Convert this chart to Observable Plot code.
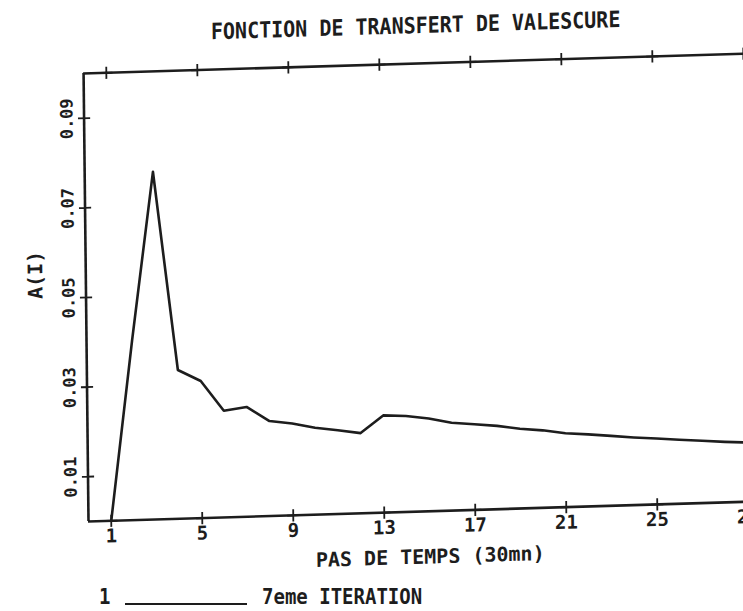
<!DOCTYPE html>
<html>
<head>
<meta charset="utf-8">
<script src="https://cdn.jsdelivr.net/npm/d3@7"></script>
<script src="https://cdn.jsdelivr.net/npm/@observablehq/plot@0.6"></script>
<style>
  html, body { margin: 0; padding: 0; background: #ffffff; overflow: hidden; }
  body { width: 743px; height: 611px; position: relative; font-family: "DejaVu Sans Mono", monospace; color: #1d1d1d; }
  #sheet { position: absolute; left: 0; top: 0; width: 800px; height: 611px;
           transform: matrix(1, -0.03, 0.011, 1, 0, 0); transform-origin: 88px 521px; }
  #title { position: absolute; left: 0; width: 842px; top: 26px; text-align: center;
           font-size: 20px; line-height: 20px; white-space: nowrap; font-weight: bold;
           transform: scaleY(1.12); transform-origin: 50% 80%; }
  #chart { position: absolute; left: 0; top: 0; width: 800px; }
  .leg { position: absolute; font-size: 19px; line-height: 20px; white-space: nowrap; font-weight: bold;
         transform: scaleY(1.1); transform-origin: 0 80%; }
  #legline { position: absolute; left: 125px; top: 603px; width: 122px; height: 2px; background: #1d1d1d; }
</style>
</head>
<body>
<div id="sheet">
  <div id="title"></div>
  <div id="chart"></div>
</div>
<div class="leg" id="legnum" style="left:99px; top:587px;"></div>
<div id="legline"></div>
<div class="leg" id="legtext" style="left:262px; top:587px;"></div>
<script>
// ---- data ----
const titleText = "FONCTION DE TRANSFERT DE VALESCURE";
const xLabel = "PAS DE TEMPS (30mn)";
const yLabel = "A(I)";
const seriesNumber = "1";
const seriesName = "7eme ITERATION";
const steps = [1, 2, 3, 4, 5, 6, 7, 8, 9, 10, 11, 12, 13, 14, 15, 16, 17, 18, 19, 20, 21, 22, 23, 24, 25, 26, 27, 28, 29];
const values = [0.0000, 0.0400, 0.0776, 0.0332, 0.0306, 0.0238, 0.0245, 0.0212, 0.0205, 0.0194,
                0.0187, 0.0179, 0.0217, 0.0214, 0.0207, 0.0196, 0.0191, 0.0186, 0.0178, 0.0173,
                0.0165, 0.0161, 0.0156, 0.0151, 0.0147, 0.0143, 0.0139, 0.0135, 0.0132];
const xTicks = [1, 5, 9, 13, 17, 21, 25, 29];
const yTicks = [0.01, 0.03, 0.05, 0.07, 0.09];
const xDomain = [0, 30];
const yDomain = [0, 0.1];

const data = steps.map((s, i) => ({step: s, a: values[i]}));
const ink = "#1d1d1d";

document.getElementById("title").textContent = titleText;
document.getElementById("legnum").textContent = seriesNumber;
document.getElementById("legtext").textContent = seriesName;

const chart = Plot.plot({
  width: 800,
  height: 575,
  marginLeft: 88,
  marginRight: 29.5,
  marginTop: 73,
  marginBottom: 54,
  x: {domain: xDomain},
  y: {domain: yDomain, axis: null},
  style: {fontFamily: "DejaVu Sans Mono", fontWeight: "bold", color: ink, background: "transparent", overflow: "visible"},
  marks: [
    Plot.ruleY(yDomain, {stroke: ink, strokeWidth: 2.6}),
    Plot.ruleX(xDomain, {stroke: ink, strokeWidth: 2.6}),
    Plot.dot(xTicks, {x: d => d, y: yDomain[0], symbol: "plus", r: 4, stroke: ink, strokeWidth: 1.8}),
    Plot.dot(xTicks, {x: d => d, y: yDomain[1], symbol: "plus", r: 4, stroke: ink, strokeWidth: 1.8}),
    Plot.dot(yTicks, {x: xDomain[0], y: d => d, symbol: "plus", r: 4, stroke: ink, strokeWidth: 1.8}),
    Plot.axisX(xTicks, {tickSize: 0, tickPadding: 8, fontSize: 19, fontWeight: "bold", label: null, tickFormat: d => String(d)}),
    Plot.text(yTicks, {x: xDomain[0], y: d => d, text: d => d.toFixed(2), rotate: -90, dx: -17, fontSize: 17, fontWeight: "bold", fill: ink}),
    Plot.line(data, {x: "step", y: "a", stroke: ink, strokeWidth: 2.6, strokeLinejoin: "round"}),
    Plot.text([xLabel], {frameAnchor: "bottom", lineAnchor: "top", dy: 38, fontSize: 20, fontWeight: "bold", fill: ink}),
    Plot.text([yLabel], {frameAnchor: "left", rotate: -90, dx: -50, fontSize: 20, fontWeight: "bold", fill: ink})
  ]
});
document.getElementById("chart").appendChild(chart);
</script>
</body>
</html>
